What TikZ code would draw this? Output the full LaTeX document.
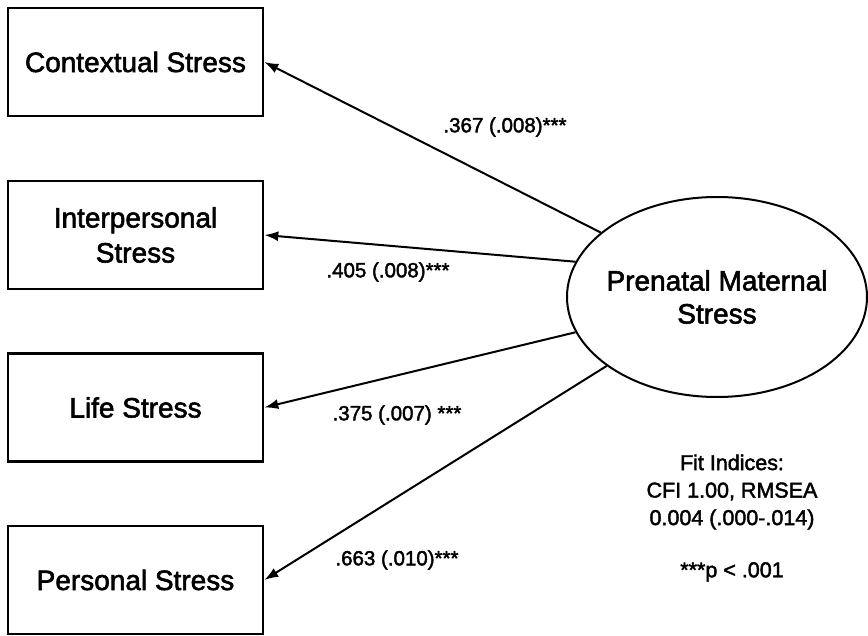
\documentclass[tikz,border=0pt]{standalone}
\usepackage{fontspec}
\setmainfont{Liberation Sans}
\newfontfamily\heavyfont[FakeBold=2]{Liberation Sans}
\usetikzlibrary{shapes.geometric,arrows.meta}
\begin{document}
\begin{tikzpicture}[x=1pt,y=-1pt,
  boxnode/.style={draw,line width=2.6pt,minimum width=255pt,minimum height=108pt,inner sep=0pt,align=center,font={\fontsize{28}{35}\heavyfont}},
  latent/.style={draw,ellipse,line width=2pt,minimum width=300pt,minimum height=200pt,inner xsep=-6pt,inner ysep=0pt,align=center,font={\fontsize{28}{33}\heavyfont}},
  coef/.style={inner sep=0pt,font={\fontsize{20.5}{24}\heavyfont}},
  path/.style={line width=2pt,-{Latex[length=14pt,width=10pt]}},
  note/.style={inner sep=0pt,align=center,font={\fontsize{21.5}{27.5}\heavyfont}}]
\useasboundingbox (0,0) rectangle (868,636);
\node[boxnode] (ctx) at (135.5,62) {Contextual Stress};
\node[boxnode] (ip) at (135.5,235) {Interpersonal\\Stress};
\node[boxnode] (life) at (135.5,407.5) {Life Stress};
\node[boxnode] (pers) at (135.5,580) {Personal Stress};
\node[latent] (pms) at (717,297) {Prenatal Maternal\\Stress};
\draw[path] (pms.151) -- (ctx.east);
\draw[path] (pms.166) -- (ip.east);
\draw[path] (pms.194.5) -- (life.east);
\draw[path] (pms.212.5) -- (pers.east);
\node[coef] (c1) at (505,127) {.367 (.008)***};
\node[coef] (c2) at (388,272) {.405 (.008)***};
\node[coef] (c3) at (397,415) {.375 (.007) ***};
\node[coef] (c4) at (397,560) {.663 (.010)***};
\node[note] (fit) at (732,492) {Fit Indices:\\CFI 1.00, RMSEA\\0.004 (.000-.014)};
\node[note] (pval) at (732,572) {***p < .001};
\end{tikzpicture}
\end{document}
